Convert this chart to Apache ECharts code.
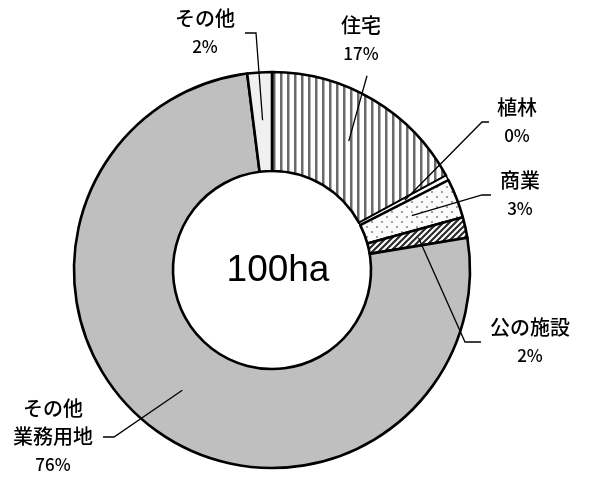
<!DOCTYPE html>
<html><head><meta charset="utf-8">
<script src="https://cdn.jsdelivr.net/npm/echarts@6/dist/echarts.min.js"></script>
<style>html,body{margin:0;padding:0;background:#fff}#c{width:602px;height:479px}</style>
</head><body><div id="c"></div>
<script>
// ---- data ----
const categories = ['住宅', '植林', '商業', '公の施設', 'その他\n業務用地', 'その他'];
const values = [17.1, 0.4, 3.2, 1.7, 75.6, 2.0];
const centerLabel = '100ha';

// ---- styles ----
function makePattern(w, h, draw) {
  const c = document.createElement('canvas');
  c.width = w; c.height = h;
  const g = c.getContext('2d');
  g.fillStyle = '#ffffff'; g.fillRect(0, 0, w, h);
  draw(g);
  return { image: c, repeat: 'repeat' };
}
const stripeFill = makePattern(7, 8, g => {
  g.fillStyle = '#6a6a6a'; g.fillRect(0, 0, 2, 8);
  g.fillStyle = '#b4b4b4'; g.fillRect(2, 0, 1, 8);
});
const dotFill = makePattern(10, 10, g => {
  g.fillStyle = '#fbfbfb'; g.fillRect(0, 0, 10, 10);
  g.fillStyle = '#8a8a8a';
  g.beginPath(); g.arc(2, 2, 1.1, 0, Math.PI * 2); g.fill();
  g.beginPath(); g.arc(7, 7, 1.1, 0, Math.PI * 2); g.fill();
});
const hatchFill = makePattern(6, 6, g => {
  g.strokeStyle = '#2a2a2a'; g.lineWidth = 2.2;
  g.beginPath();
  g.moveTo(-1, 7); g.lineTo(7, -1);
  g.moveTo(-4, 4); g.lineTo(4, -4);
  g.moveTo(2, 10); g.lineTo(10, 2);
  g.stroke();
});
const FILLS = [stripeFill, '#ffffff', dotFill, hatchFill, '#bfbfbf', '#f0f0f0'];

const LABEL_BOX = [
  { x: 361, y: 40, side: 'below', gap: 12, dx: 6 },
  { x: 517, y: 122, side: 'right', gap: 8, tail: 7 },
  { x: 520, y: 195, side: 'right', gap: 9, tail: 9 },
  { x: 530, y: 342, side: 'right', gap: 9, tail: 16 },
  { x: 53, y: 437, side: 'left', gap: 10, tail: 11 },
  { x: 205, y: 33, side: 'left', gap: 10, tail: 11 }
];
const CJK = '"Noto Sans CJK JP", "Noto Sans", sans-serif';

const chart = echarts.init(document.getElementById('c'), null, { renderer: 'canvas' });
chart.setOption({
  animation: false,
  backgroundColor: '#ffffff',
  graphic: [{
    type: 'text', x: 278, y: 271, silent: true,
    style: { text: centerLabel, font: '37px "Liberation Sans", Arial, sans-serif', fill: '#000', align: 'center', verticalAlign: 'middle' }
  }],
  series: [
    {
      type: 'pie', radius: [99, 198], center: [272, 270], startAngle: 90, clockwise: true,
      silent: true, avoidLabelOverlap: false,
      label: { show: false }, labelLine: { show: false },
      itemStyle: { borderColor: '#000', borderWidth: 2.6 },
      emphasis: { disabled: true },
      data: categories.map((n, i) => ({ name: n, value: values[i], itemStyle: { color: FILLS[i], borderWidth: i === 1 ? 1.5 : 2.6 } }))
    },
    {
      type: 'pie', radius: [0, 150], center: [272, 270], startAngle: 90, clockwise: true,
      silent: true, avoidLabelOverlap: false, percentPrecision: 0, z: 5,
      itemStyle: { color: 'rgba(0,0,0,0)', borderWidth: 0 },
      emphasis: { disabled: true },
      label: {
        show: true, position: 'outside', color: '#000',
        formatter: '{n|{b}}\n{p|{d}%}',
        rich: {
          n: { fontSize: 20, lineHeight: 28, fontFamily: CJK, fontWeight: 500, color: '#000', align: 'center' },
          p: { fontSize: 17, lineHeight: 30, fontFamily: CJK, fontWeight: 500, color: '#000', align: 'center' }
        }
      },
      labelLine: { show: true, length: 10, length2: 10, lineStyle: { color: '#000', width: 1.3 } },
      labelLayout: function (p) {
        const L = LABEL_BOX[p.dataIndex];
        const start = p.labelLinePoints[0];
        const w = p.labelRect.width, h = p.labelRect.height;
        let line;
        if (L.side === 'below') {
          const e = [L.x + L.dx, L.y + h / 2 + L.gap];
          line = [start, e, e];
        } else if (L.side === 'right') {
          const ex = L.x - w / 2 - L.gap;
          line = [start, [ex - L.tail, L.y], [ex, L.y]];
        } else {
          const ex = L.x + w / 2 + L.gap;
          line = [start, [ex + L.tail, L.y], [ex, L.y]];
        }
        return { x: L.x, y: L.y, align: 'center', verticalAlign: 'middle', labelLinePoints: line };
      },
      data: categories.map((n, i) => ({ name: n, value: values[i] }))
    }
  ]
});
</script>
</body></html>
